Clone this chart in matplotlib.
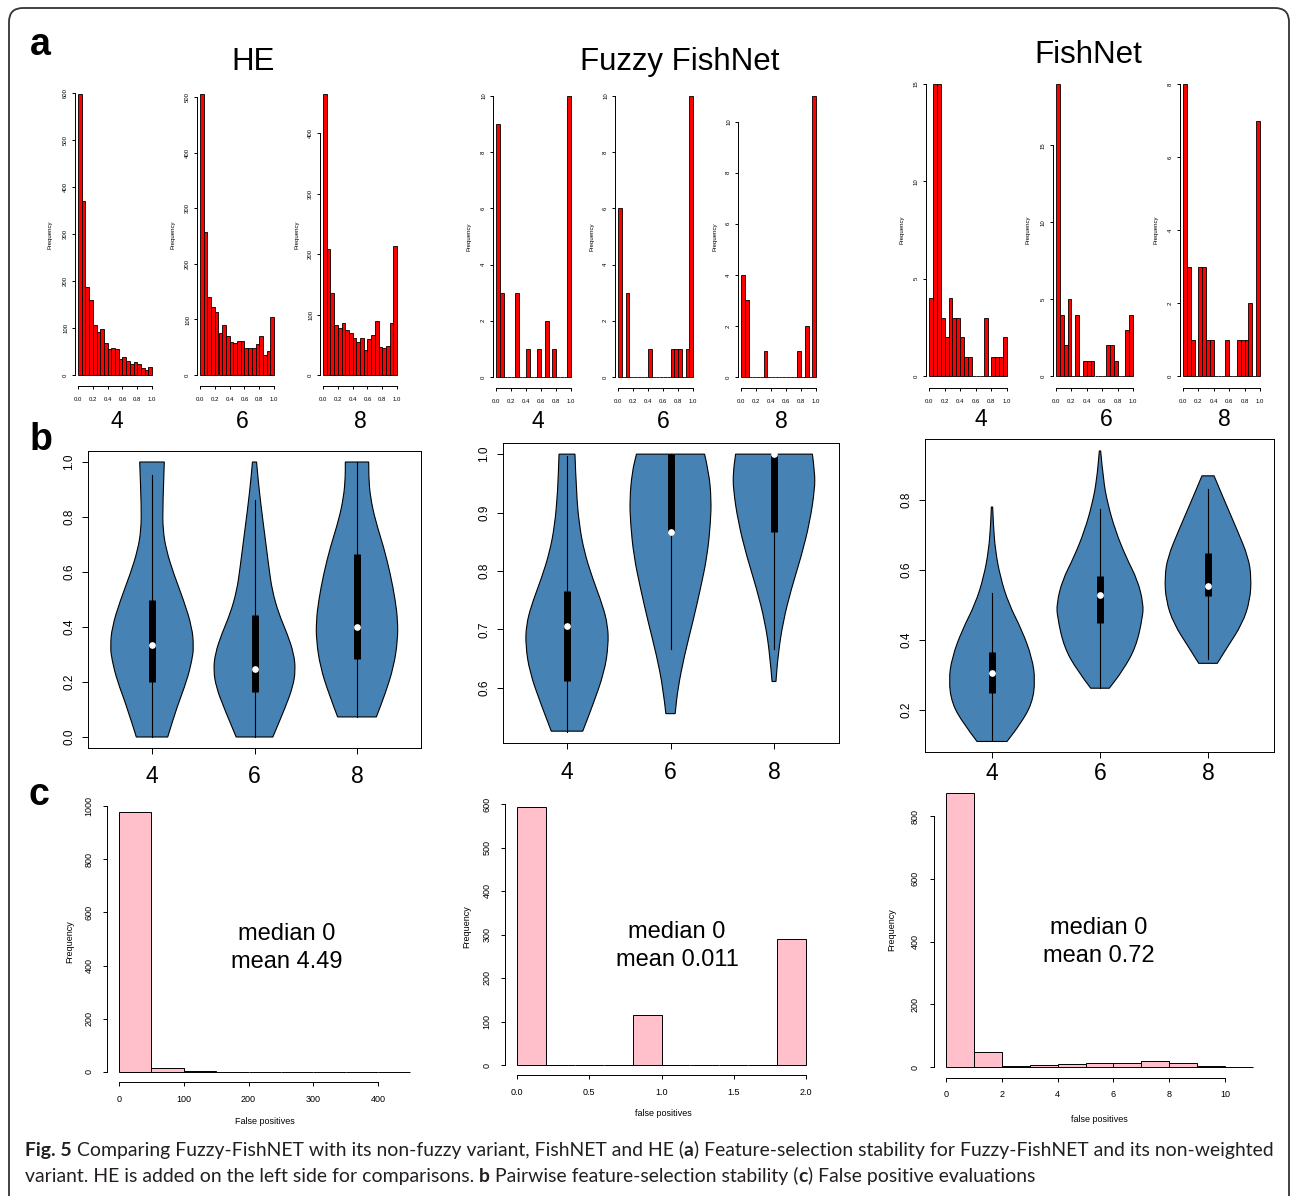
import numpy as np
import matplotlib.pyplot as plt
from matplotlib.patches import FancyBboxPatch, PathPatch
from matplotlib.path import Path
from matplotlib.transforms import IdentityTransform

W, H = 1292, 1196
plt.rcParams['font.family'] = ['Liberation Sans', 'DejaVu Sans']

# ---------------- data ----------------
# (a) feature-selection stability histograms, bin width 0.05
stab_bins = np.round(np.arange(0, 1.0001, 0.05), 2)
he_4 = [598, 370, 188, 160, 106, 92, 98, 68, 55, 58, 55, 34, 38, 30, 24, 28, 24, 14, 10, 18]
he_6 = [506, 258, 140, 122, 114, 76, 90, 70, 60, 58, 62, 62, 48, 48, 48, 56, 70, 36, 44, 104]
he_8 = [465, 208, 136, 82, 78, 86, 74, 70, 62, 54, 62, 42, 60, 66, 90, 46, 44, 48, 86, 214]
fuzzy_4 = [9, 3, 0, 0, 0, 3, 0, 0, 1, 0, 0, 1, 0, 2, 0, 1, 0, 0, 0, 10]
fuzzy_6 = [6, 0, 3, 0, 0, 0, 0, 0, 1, 0, 0, 0, 0, 0, 1, 1, 1, 0, 1, 10]
fuzzy_8 = [4, 3, 0, 0, 0, 0, 1, 0, 0, 0, 0, 0, 0, 0, 0, 1, 0, 2, 0, 11]
fish_4 = [4, 15, 15, 3, 2, 4, 3, 3, 2, 1, 1, 0, 0, 0, 3, 0, 1, 1, 1, 2]
fish_6 = [19, 4, 2, 5, 0, 4, 0, 1, 1, 1, 0, 0, 0, 2, 2, 1, 0, 0, 3, 4]
fish_8 = [8, 3, 1, 0, 3, 3, 1, 1, 0, 0, 0, 1, 0, 0, 1, 1, 1, 2, 0, 7]
sizes = ['4', '6', '8']

# (b) pairwise stability violins: outline profile (y, half width) + box stats
# stats = q1, median, q3, whisker low, whisker high
he_v4_y = [0.0, 0.109, 0.206, 0.279, 0.327, 0.4, 0.497, 0.594, 0.679, 0.752, 0.836, 1.0]
he_v4_w = [0.153, 0.244, 0.341, 0.39, 0.407, 0.39, 0.309, 0.211, 0.14, 0.107, 0.104, 0.12]
he_v4_s = [0.2, 0.333, 0.5, 0.0, 0.951]
he_v6_y = [0.0, 0.109, 0.182, 0.242, 0.303, 0.376, 0.448, 0.533, 0.618, 0.715, 0.836, 0.933, 1.0]
he_v6_w = [0.179, 0.302, 0.374, 0.4, 0.384, 0.319, 0.237, 0.172, 0.14, 0.107, 0.065, 0.036, 0.02]
he_v6_s = [0.164, 0.248, 0.445, 0.0, 0.863]
he_v8_y = [0.073, 0.158, 0.255, 0.352, 0.424, 0.497, 0.594, 0.691, 0.788, 0.873, 0.945, 1.0]
he_v8_w = [0.189, 0.276, 0.358, 0.397, 0.397, 0.374, 0.325, 0.26, 0.179, 0.13, 0.114, 0.114]
he_v8_s = [0.285, 0.4, 0.667, 0.073, 1.0]

fz_v4_y = [0.526, 0.570, 0.627, 0.673, 0.707, 0.741, 0.787, 0.832, 0.878, 0.935, 1.0]
fz_v4_w = [0.152, 0.248, 0.361, 0.40, 0.394, 0.345, 0.248, 0.168, 0.119, 0.09, 0.077]
fz_v4_s = [0.611, 0.706, 0.765, 0.525, 0.996]
fz_v6_y = [0.556, 0.599, 0.656, 0.713, 0.770, 0.826, 0.883, 0.923, 0.969, 1.0]
fz_v6_w = [0.045, 0.071, 0.135, 0.216, 0.29, 0.355, 0.387, 0.394, 0.371, 0.329]
fz_v6_s = [0.867, 0.867, 1.0, 0.667, 1.0]
fz_v8_y = [0.611, 0.656, 0.713, 0.770, 0.826, 0.883, 0.940, 0.969, 1.0]
fz_v8_w = [0.019, 0.039, 0.087, 0.168, 0.265, 0.345, 0.394, 0.394, 0.371]
fz_v8_s = [0.867, 1.0, 1.0, 0.667, 1.0]

fn_v4_y = [0.110, 0.16, 0.217, 0.284, 0.350, 0.427, 0.503, 0.579, 0.655, 0.731, 0.779]
fn_v4_w = [0.139, 0.262, 0.37, 0.401, 0.37, 0.278, 0.154, 0.077, 0.031, 0.012, 0.006]
fn_v4_s = [0.249, 0.305, 0.365, 0.113, 0.534]
fn_v6_y = [0.262, 0.312, 0.379, 0.465, 0.503, 0.570, 0.636, 0.712, 0.789, 0.855, 0.939]
fn_v6_w = [0.086, 0.21, 0.333, 0.395, 0.401, 0.349, 0.241, 0.142, 0.071, 0.031, 0.006]
fn_v6_s = [0.449, 0.527, 0.581, 0.262, 0.774]
fn_v8_y = [0.333, 0.379, 0.446, 0.512, 0.579, 0.636, 0.712, 0.789, 0.846, 0.868]
fn_v8_w = [0.086, 0.179, 0.318, 0.389, 0.401, 0.373, 0.272, 0.164, 0.086, 0.056]
fn_v8_s = [0.525, 0.555, 0.648, 0.344, 0.829]

# (c) false positive histograms
fp_he_bins = [0, 50, 100, 150, 200, 250, 300, 350, 400, 450]
fp_he = [978, 14, 4, 1, 1, 1, 1, 1, 1]
fp_fuzzy_bins = [0.0, 0.2, 0.4, 0.6, 0.8, 1.0, 1.2, 1.4, 1.6, 1.8, 2.0]
fp_fuzzy = [593, 0, 0, 0, 116, 0, 0, 0, 0, 290]
fp_fish_bins = [0, 1, 2, 3, 4, 5, 6, 7, 8, 9, 10, 11]
fp_fish = [873, 48, 2, 5, 8, 12, 12, 18, 14, 2, 1]

fig = plt.figure(figsize=(W / 100, H / 100), dpi=100)


def place(xa, pxa, xb, pxb, ya, pya, yb, pyb, xlim, ylim):
    # axes whose data values xa/xb, ya/yb land on the given pixel positions
    sx = (pxb - pxa) / (xb - xa)
    sy = (pyb - pya) / (yb - ya)
    left = pxa + (xlim[0] - xa) * sx
    right = pxa + (xlim[1] - xa) * sx
    bottom = pya + (ylim[0] - ya) * sy
    top = pya + (ylim[1] - ya) * sy
    ax = fig.add_axes([left / W, 1 - bottom / H, (right - left) / W, (bottom - top) / H])
    ax.set_facecolor('none')
    ax.set_xlim(xlim)
    ax.set_ylim(ylim)
    return ax


def r_axes(ax, xt, xl, yt, yl, fs, tl, xpad, ypad, box=False, xfs=None):
    for s in ax.spines.values():
        s.set_linewidth(0.7)
    if not box:
        ax.spines['top'].set_visible(False)
        ax.spines['right'].set_visible(False)
        ax.spines['left'].set_bounds(yt[0], yt[-1])
        ax.spines['bottom'].set_bounds(xt[0], xt[-1])
    ax.set_xticks(xt, xl)
    ax.set_yticks(yt, yl)
    ax.tick_params(axis='x', labelsize=xfs or fs, length=tl, width=0.7, pad=xpad)
    ax.tick_params(axis='y', labelsize=fs, length=tl, width=0.7, pad=ypad, labelrotation=90)
    for lab in ax.get_yticklabels():
        lab.set_va('center')


def ftext(px, py, s, **kw):
    return fig.text(px / W, 1 - py / H, s, **kw)


def smooth_side(xs, ys):
    # quadratic bezier through the midpoints of the traced outline points
    verts = [(xs[0], ys[0])]
    codes = []
    for i in range(1, len(xs) - 1):
        verts += [(xs[i], ys[i]), ((xs[i] + xs[i + 1]) / 2, (ys[i] + ys[i + 1]) / 2)]
        codes += [Path.CURVE3, Path.CURVE3]
    verts.append((xs[-1], ys[-1]))
    codes.append(Path.LINETO)
    return verts, codes


def violin(ax, pos, vy, vw, st):
    vy = np.array(vy)
    vw = np.array(vw)
    lv, lc = smooth_side(pos - vw, vy)
    rv, rc = smooth_side((pos + vw)[::-1], vy[::-1])
    verts = lv + rv + [lv[0]]
    codes = [Path.MOVETO] + lc + [Path.LINETO] + rc + [Path.CLOSEPOLY]
    ax.add_patch(PathPatch(Path(verts, codes), facecolor='#4682B4',
                           edgecolor='black', linewidth=0.8))
    q1, med, q3, lo, hi = st
    ax.plot([pos, pos], [lo, hi], color='black', lw=0.8)
    ax.plot([pos, pos], [q1, q3], color='black', lw=5, solid_capstyle='butt')
    ax.plot(pos, med, 'o', color='white', ms=3.8, mec='white')


# frame
fig.add_artist(FancyBboxPatch((9, -40), 1280, H - 8 + 40,
                              boxstyle='round,pad=0,rounding_size=14',
                              transform=IdentityTransform(), fill=False,
                              edgecolor='#333333', linewidth=1.3))

# ---------------- row a ----------------
row_a = [
    (he_4, (78, 152, 375, 94), [0, 100, 200, 300, 400, 500, 600], 50, 235),
    (he_6, (200, 274, 375, 94), [0, 100, 200, 300, 400, 500], 173, 235),
    (he_8, (323, 397, 375, 94), [0, 100, 200, 300, 400], 297, 235),
    (fuzzy_4, (496, 571, 377, 96), [0, 2, 4, 6, 8, 10], 469, 237),
    (fuzzy_6, (618, 693, 377, 96), [0, 2, 4, 6, 8, 10], 592, 237),
    (fuzzy_8, (741, 816, 377, 96), [0, 2, 4, 6, 8, 10], 715, 237),
    (fish_4, (929, 1007, 376, 84), [0, 5, 10, 15], 902, 230),
    (fish_6, (1056, 1133, 376, 84), [0, 5, 10, 15], 1028, 230),
    (fish_8, (1183, 1260, 376, 84), [0, 2, 4, 6, 8], 1156, 230),
]
xt_a = [0, 0.2, 0.4, 0.6, 0.8, 1.0]
for counts, (x0, x1, y0, ytop), yt, lx, ly in row_a:
    m = max(counts)
    ax = place(0, x0, 1, x1, 0, y0, m, ytop, (-0.04, 1.04), (-0.04 * m, 1.04 * m))
    ax.bar(stab_bins[:-1], counts, width=0.05, align='edge', color='red',
           edgecolor='black', linewidth=0.6)
    r_axes(ax, xt_a, ['%.1f' % v for v in xt_a], yt, [str(v) for v in yt],
           fs=4.3, tl=2, xpad=6, ypad=3)
    ftext(lx, ly, 'Frequency', fontsize=4.3, rotation=90, ha='center', va='center')

ftext(253, 62, 'HE', fontsize=22.5, ha='center', va='center')
ftext(680, 62, 'Fuzzy FishNet', fontsize=22.5, ha='center', va='center')
ftext(1088, 55, 'FishNet', fontsize=22.5, ha='center', va='center')
for xs, yy in [((117, 242, 360), 422), ((538, 663, 781), 422), ((981, 1106, 1224), 420)]:
    for x, s in zip(xs, sizes):
        ftext(x, yy, s, fontsize=16.5, ha='center', va='center')

# ---------------- row b ----------------
row_b = [
    ((152, 357, 737, 462, 0.0, 1.0), (0.375, 3.625), (-0.04, 1.04),
     [0, 0.2, 0.4, 0.6, 0.8, 1.0], 8,
     [(he_v4_y, he_v4_w, he_v4_s), (he_v6_y, he_v6_w, he_v6_s), (he_v8_y, he_v8_w, he_v8_s)]),
    ((567, 774, 743 - 0.094 * 586, 443 + 0.019 * 586, 0.6, 1.0), (0.38, 3.63), (0.506, 1.019),
     [0.6, 0.7, 0.8, 0.9, 1.0], 9,
     [(fz_v4_y, fz_v4_w, fz_v4_s), (fz_v6_y, fz_v6_w, fz_v6_s), (fz_v8_y, fz_v8_w, fz_v8_s)]),
    ((992, 1208, 752 - 0.12 * 350.6, 439 + 0.173 * 350.6, 0.2, 0.8), (0.38, 3.61), (0.08, 0.973),
     [0.2, 0.4, 0.6, 0.8], 3,
     [(fn_v4_y, fn_v4_w, fn_v4_s), (fn_v6_y, fn_v6_w, fn_v6_s), (fn_v8_y, fn_v8_w, fn_v8_s)]),
]
for (px1, px3, pya, pyb, ya, yb), xlim, ylim, yt, xpad, vios in row_b:
    ax = place(1, px1, 3, px3, ya, pya, yb, pyb, xlim, ylim)
    for pos, (vy, vw, st) in enumerate(vios, start=1):
        violin(ax, pos, vy, vw, st)
    ax.set_ylim(ylim)
    r_axes(ax, [1, 2, 3], sizes, yt, ['%.1f' % v for v in yt],
           fs=8.5, tl=4, xpad=xpad, ypad=5, box=True, xfs=16.5)

# ---------------- row c ----------------
row_c = [
    (fp_he, fp_he_bins, (0, 119, 400, 378), (0, 1072, 1000, 806),
     [0, 100, 200, 300, 400], ['0', '100', '200', '300', '400'],
     [0, 200, 400, 600, 800, 1000], 'False positives', (265, 1122), (70, 942),
     'median 0\nmean 4.49', (287, 948)),
    (fp_fuzzy, fp_fuzzy_bins, (0, 517, 2, 806), (0, 1065, 600, 804),
     [0, 0.5, 1.0, 1.5, 2.0], ['0.0', '0.5', '1.0', '1.5', '2.0'],
     [0, 100, 200, 300, 400, 500, 600], 'false positives', (663, 1114), (467, 927),
     'median 0\nmean 0.011', (677, 946)),
    (fp_fish, fp_fish_bins, (0, 946, 10, 1225), (0, 1067, 800, 816),
     [0, 2, 4, 6, 8, 10], ['0', '2', '4', '6', '8', '10'],
     [0, 200, 400, 600, 800], 'false positives', (1099, 1119), (892, 930),
     'median 0\nmean 0.72', (1099, 942)),
]
for counts, bins, (xa, pxa, xb, pxb), (ya, pya, yb, pyb), xt, xl, yt, xlab, xlp, ylp, note, np_ in row_c:
    span = bins[-1] - bins[0]
    m = max(counts)
    ax = place(xa, pxa, xb, pxb, ya, pya, yb, pyb,
               (bins[0] - 0.04 * span, bins[-1] + 0.04 * span), (-0.04 * m, 1.04 * m))
    widths = np.diff(bins)
    ax.bar(bins[:-1], counts, width=widths, align='edge', color='#FFC0CB',
           edgecolor='black', linewidth=0.7)
    r_axes(ax, xt, xl, yt, [str(v) for v in yt], fs=6.5, tl=3, xpad=6, ypad=7)
    ftext(xlp[0], xlp[1], xlab, fontsize=6.5, ha='center', va='center')
    ftext(ylp[0], ylp[1], 'Frequency', fontsize=6.5, rotation=90, ha='center', va='center')
    ftext(np_[0], np_[1], note, fontsize=17, ha='center', va='center', linespacing=1.33)

# panel letters
for s, (x, y) in zip('abc', [(40, 45), (41, 440), (39, 795)]):
    ftext(x, y, s, fontsize=27, fontweight='bold', ha='center', va='center')

# ---------------- caption ----------------
renderer = fig.canvas.get_renderer()


def advance(s, size, bold):
    kw = dict(fontsize=size, family='Lato', fontweight='bold' if bold else 'normal')
    t1 = fig.text(0, 0, '|' + s + '|', **kw)
    t2 = fig.text(0, 0, '||', **kw)
    w = t1.get_window_extent(renderer).width - t2.get_window_extent(renderer).width
    t1.remove()
    t2.remove()
    return w


line1 = [('Fig. 5', True), (' Comparing Fuzzy-FishNET with its non-fuzzy variant, FishNET and HE (', False),
         ('a', True), (') Feature-selection stability for Fuzzy-FishNET and its non-weighted', False)]
line2 = [('variant. HE is added on the left side for comparisons. ', False), ('b', True),
         (' Pairwise feature-selection stability (', False), ('c', True),
         (') False positive evaluations', False)]
base = 13.0
total = sum(advance(s, base, b) for s, b in line1)
cap_size = base * (1267 - 25) / total
for runs, yb in [(line1, 1156), (line2, 1182)]:
    x = 25
    for s, b in runs:
        ftext(x, yb, s, fontsize=cap_size, family='Lato',
              fontweight='bold' if b else 'normal', ha='left', va='baseline', color='#231f20')
        x += advance(s, cap_size, b)

fig.savefig('out.png', dpi=100)
